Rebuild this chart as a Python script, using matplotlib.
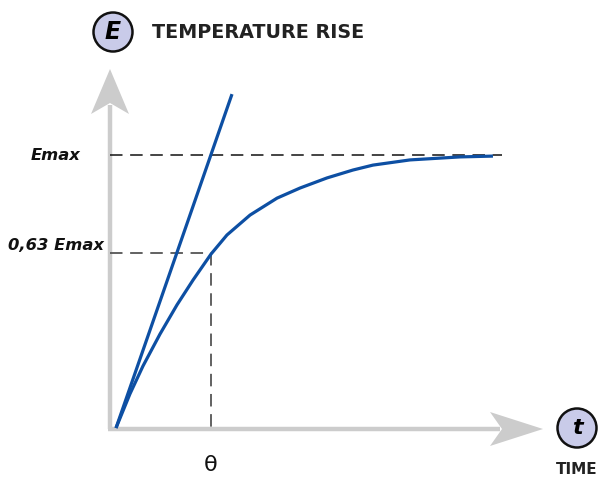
import matplotlib
matplotlib.use("Agg")
import matplotlib.pyplot as plt
from matplotlib.patches import Polygon, Ellipse

# ---- data (time in units of theta, E in units of Emax) ----
curve_t = [0.0, 0.147, 0.284, 0.463, 0.642, 0.811, 1.0, 1.168, 1.411, 1.695,
           1.937, 2.221, 2.495, 2.705, 3.095, 3.621, 3.968]
curve_E = [0.0, 0.125, 0.227, 0.344, 0.451, 0.542, 0.637, 0.707, 0.780, 0.842,
           0.879, 0.916, 0.945, 0.963, 0.982, 0.993, 0.996]
tangent_t = [0.0, 1.221]
tangent_E = [0.0, 1.223]
E_max = 1.0
E_63 = 0.64
theta = 1.0
dash_end_t = 4.06
labels_y = ["Emax", "0,63 Emax"]

W, H = 602, 480
fig = plt.figure(figsize=(W / 100, H / 100), dpi=100)
ax = fig.add_axes([0, 0, 1, 1])
# pixel -> data mapping: t = (px-116)/95, E = (428-py)/273
x0, sx = 116, 95
y0, sy = 428, 273
ax.set_xlim((0 - x0) / sx, (W - x0) / sx)
ax.set_ylim((y0 - H) / sy, (y0 - 0) / sy)
ax.axis("off")

def P(px, py):
    return ((px - x0) / sx, (y0 - py) / sy)

gray = "#cccccc"
# axes lines
ax_t0, ax_E0 = P(110, 429)
ax.plot([ax_t0, ax_t0], [ax_E0, P(0, 105)[1]], color=gray, lw=3.2, solid_capstyle="butt", zorder=1)
ax.plot([P(108, 0)[0], P(500, 0)[0]], [ax_E0, ax_E0], color=gray, lw=3.2, solid_capstyle="butt", zorder=1)
ax.add_patch(Polygon([P(110, 69), P(129, 114), P(110, 103), P(91, 114)], closed=True,
                     fc=gray, ec="none", zorder=1))
ax.add_patch(Polygon([P(543, 429), P(490, 412), P(502, 429), P(490, 446)], closed=True,
                     fc=gray, ec="none", zorder=1))

# dashed guides
plt.rcParams["lines.scale_dashes"] = False
ax.plot([ax_t0, dash_end_t], [E_max, E_max], color="#111111", lw=1.1, dashes=(9, 5.5), zorder=2)
ax.plot([ax_t0, theta], [E_63, E_63], color="#555555", lw=1.3, dashes=(9, 5.5), zorder=2)
ax.plot([theta, theta], [E_63, ax_E0], color="#555555", lw=1.3, dashes=(9, 5.5), zorder=2)

blue = "#0d4fa3"
ax.plot(tangent_t, tangent_E, color=blue, lw=2.3, solid_capstyle="butt", zorder=3)
ax.plot(curve_t, curve_E, color=blue, lw=2.3, solid_capstyle="butt",
        solid_joinstyle="round", zorder=3)

font = "DejaVu Sans"
lx = P(56, 0)[0]
ax.text(lx, E_max, labels_y[0], ha="center", va="center", fontsize=11.8,
        fontweight="bold", style="italic", family=font, color="#111111")
ax.text(lx, P(0, 246)[1], labels_y[1], ha="center", va="center", fontsize=11.8,
        fontweight="bold", style="italic", family=font, color="#111111")

ax.text(theta, P(0, 465)[1], "θ", ha="center", va="center", fontsize=16,
        family=font, color="#111111")

# title badge
lav = "#c9cbe9"
c1 = P(113, 32)
ax.add_patch(Ellipse(c1, 39 / sx, 39 / sy, fc=lav, ec="#111111", lw=1.8, zorder=4))
ax.text(c1[0], c1[1], "E", ha="center", va="center", fontsize=17, fontweight="bold",
        style="italic", family=font, color="#000000", zorder=5)
ax.text(P(152, 0)[0], c1[1], "TEMPERATURE RISE", ha="left", va="center", fontsize=13.8,
        fontweight="bold", family=font, color="#222222")

c2 = P(577, 428)
ax.add_patch(Ellipse(c2, 39 / sx, 39 / sy, fc=lav, ec="#111111", lw=1.8, zorder=4))
ax.text(c2[0], c2[1], "t", ha="center", va="center", fontsize=16, fontweight="bold",
        style="italic", family=font, color="#000000", zorder=5)
ax.text(c2[0], P(0, 470)[1], "TIME", ha="center", va="center", fontsize=11,
        fontweight="bold", family=font, color="#222222")

fig.savefig("out.png", dpi=100, facecolor="white")
